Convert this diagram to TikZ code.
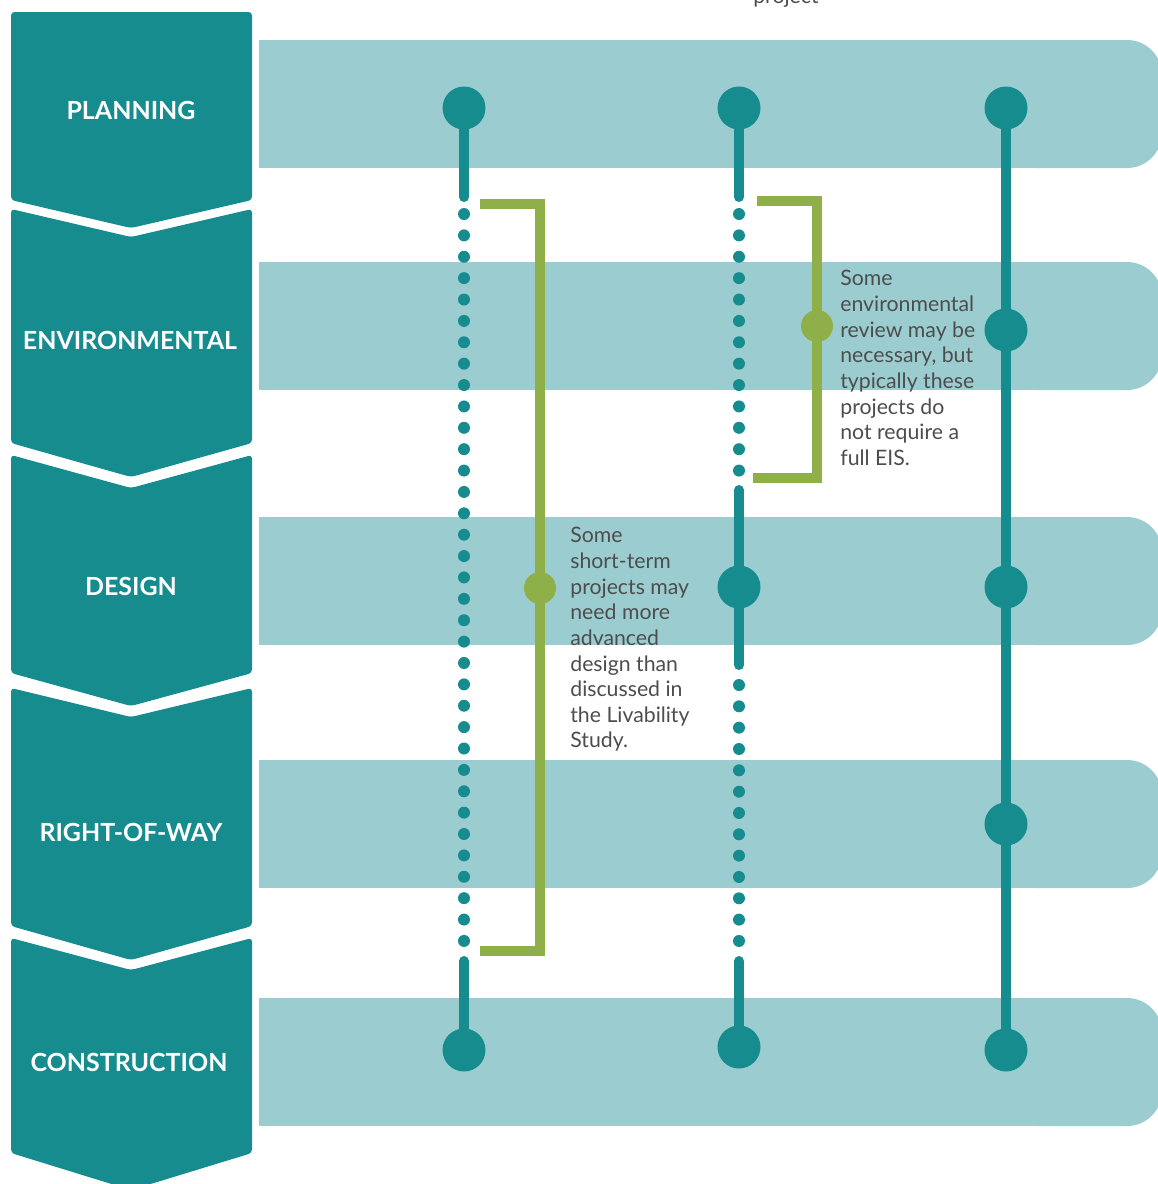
\documentclass[tikz,border=0pt]{standalone}
\usepackage{fontspec}
\setmainfont{Lato}
\usetikzlibrary{positioning}
\definecolor{tealdark}{HTML}{168C8F}
\definecolor{teallight}{HTML}{9BCDD0}
\definecolor{leaf}{HTML}{8FAF48}
\definecolor{ink}{HTML}{4D4D4D}

\begin{document}
\begin{tikzpicture}[
  x=0.02cm, y=-0.02cm,
  band/.style={fill=teallight},
  phase/.style={fill=tealdark, rounded corners=2pt},
  phaselabel/.style={text=white, font=\fontsize{14.2}{16}\selectfont\bfseries},
  stem/.style={draw=tealdark, line width=0.2cm, line cap=round},
  dot/.style={fill=tealdark},
  knob/.style={circle, fill=tealdark, minimum size=0.86cm, inner sep=0pt},
  gknob/.style={circle, fill=leaf, minimum size=0.64cm, inner sep=0pt},
  bracket/.style={draw=leaf, line width=0.2cm},
  note/.style={text=ink, align=left, inner sep=0pt, anchor=north west,
               font=\fontsize{12.1}{14.6}\selectfont}
]
  \useasboundingbox (0,0) rectangle (1158,1184);

  % phase chevrons
  \fill[phase] (11,12) -- (252,12) -- (252,200) -- (131,228) -- (11,200) -- cycle;
  \fill[phase] (11,209) -- (131,237) -- (252,209) -- (252,443) -- (131,477) -- (11,443) -- cycle;
  \fill[phase] (11,455) -- (131,488) -- (252,455) -- (252,673) -- (131,706) -- (11,673) -- cycle;
  \fill[phase] (11,688) -- (131,717) -- (252,688) -- (252,926) -- (131,960) -- (11,926) -- cycle;
  \fill[phase] (11,938) -- (131,970) -- (252,938) -- (252,1153) -- (131,1190) -- (11,1153) -- cycle;

  \node[phaselabel] (planning) at (131,110) {PLANNING};
  \node[phaselabel] (environmental) at (130,340) {ENVIRONMENTAL};
  \node[phaselabel] (design) at (131,586) {DESIGN};
  \node[phaselabel] (rightofway) at (131,832) {RIGHT-OF-WAY};
  \node[phaselabel] (construction) at (129,1062) {CONSTRUCTION};

  % bands
  \foreach \y in {40,262,517,760,998} {
    \fill[band] (259,\y) rectangle (1100,\y+128);
    \fill[band, rounded corners=0.7cm] (1000,\y) rectangle (1162,\y+128);
  }

  \node[note, anchor=base] (project) at (786,3) {project};

  % timelines
  \node[knob] (a1) at (464,108) {};
  \node[knob] (a2) at (464,1050) {};
  \node[knob] (b1) at (739,108) {};
  \node[knob] (b2) at (739,587) {};
  \node[knob] (b3) at (739,1047) {};
  \node[knob] (c1) at (1006,108) {};
  \node[knob] (c2) at (1006,330) {};
  \node[knob] (c3) at (1006,587) {};
  \node[knob] (c4) at (1006,824) {};
  \node[knob] (c5) at (1006,1050) {};

  \coordinate (a1end) at (464,197);
  \coordinate (a2start) at (464,961);
  \coordinate (b1end) at (739,197);
  \coordinate (b2start) at (739,490);
  \coordinate (b2end) at (739,665);
  \coordinate (b3start) at (739,961);

  \draw[stem] (a1) -- (a1end);
  \draw[stem] (a2start) -- (a2);
  \draw[stem] (b1) -- (b1end);
  \draw[stem] (b2start) -- (b2end);
  \draw[stem] (b3start) -- (b3);
  \draw[stem] (c1.center) -- (c5.center);

  \foreach \i in {0,...,34}
    \fill[dot] (464,{214+21.38*\i}) circle (0.12cm);
  \foreach \i in {0,...,12} {
    \fill[dot] (739,{214+21.38*\i}) circle (0.12cm);
    \fill[dot] (739,{685+21.33*\i}) circle (0.12cm);
  }

  % brackets
  \draw[bracket] (480,204) -- (540,204) -- (540,951) -- (480,951);
  \node[gknob] (g1) at (540,588) {};
  \draw[bracket] (757,201) -- (817,201) -- (817,478) -- (753,478);
  \node[gknob] (g2) at (817,326) {};

  \node[note] (note1) at (570,527) {Some\\short-term\\projects may\\need more\\advanced\\design than\\discussed in\\the Livability\\Study.};
  \node[note] (note2) at (840,270) {Some\\environmental\\review may be\\necessary, but\\typically these\\projects do\\not require a\\full EIS.};
\end{tikzpicture}
\end{document}
